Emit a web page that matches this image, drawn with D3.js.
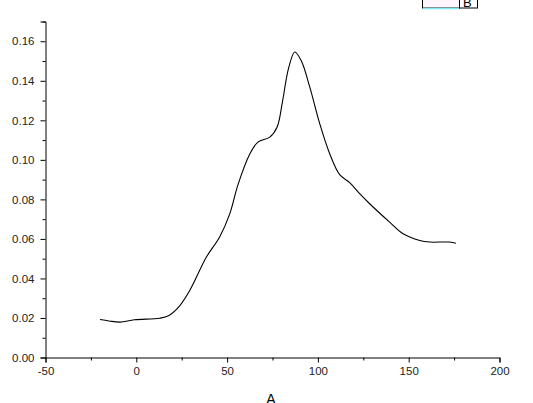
<!DOCTYPE html>
<html>
<head>
<meta charset="utf-8">
<script src="https://cdn.jsdelivr.net/npm/d3@7"></script>
<style>
body { margin: 0; background: #fff; }
svg { display: block; font-family: "Liberation Sans", Arial, sans-serif; }
</style>
</head>
<body>
<svg id="chart" width="533" height="403"></svg>
<script>
// values
const xVals = [-20, -15, -9, -1, 13, 18, 24, 29.5, 38.6, 45.9, 51.5, 56, 62.5, 67, 73.5, 77.5, 80.5, 83.8, 87.3, 90.9, 95.5, 101, 106.5, 112, 117.5, 123, 128.5, 139.5, 146.9, 156.1, 161.5, 172.5, 176];
const yVals = [0.0192, 0.0185, 0.0179, 0.0191, 0.0199, 0.0213, 0.0263, 0.034, 0.0508, 0.061, 0.0728, 0.0875, 0.103, 0.109, 0.1115, 0.1165, 0.1295, 0.1462, 0.1546, 0.150, 0.1369, 0.1183, 0.1031, 0.0925, 0.0885, 0.0829, 0.0778, 0.0685, 0.0626, 0.0592, 0.0584, 0.0584, 0.0578];
const xTicks = [-50, 0, 50, 100, 150, 200];
const yTicks = [0, 0.02, 0.04, 0.06, 0.08, 0.10, 0.12, 0.14, 0.16];
const xLabel = "A";
const legendLabel = "B";

var svg = d3.select("#chart");

var x = d3.scaleLinear().domain([-50, 200]).range([45.5, 499.5]);
var y = d3.scaleLinear().domain([0, 0.17]).range([357.5, 21.5]);

// x axis
svg.append("g")
  .attr("transform", "translate(0,357.5)")
  .call(d3.axisBottom(x).tickValues(xTicks).tickSize(5).tickPadding(4).tickFormat(d => String(d)));
svg.append("g")
  .attr("transform", "translate(0,357.5)")
  .call(d3.axisBottom(x).tickValues(d3.range(-25, 200, 50)).tickSize(3).tickFormat(""))
  .select(".domain").remove();

// y axis
svg.append("g")
  .attr("transform", "translate(45.5,0)")
  .call(d3.axisLeft(y).tickValues(yTicks).tickSize(5).tickPadding(6).tickFormat(d3.format(".2f")));
svg.append("g")
  .attr("transform", "translate(45.5,0)")
  .call(d3.axisLeft(y).tickValues(d3.range(0.01, 0.18, 0.02)).tickSize(3).tickFormat(""))
  .select(".domain").remove();

svg.selectAll(".domain").attr("stroke", "#000");
svg.selectAll(".tick line").attr("stroke", "#000");
svg.selectAll(".tick text").attr("font-size", 11.5).attr("fill", "#222")
  .attr("font-family", "'Liberation Sans', Arial, sans-serif");

// axis title
svg.append("text")
  .attr("x", 271).attr("y", 404)
  .attr("text-anchor", "middle")
  .attr("font-size", 14)
  .attr("font-family", "'Liberation Sans', Arial, sans-serif")
  .text(xLabel);

// curve
var pts = xVals.map((d, i) => [d, yVals[i]]);
svg.append("path")
  .datum(pts)
  .attr("fill", "none")
  .attr("stroke", "#000")
  .attr("stroke-width", 1.1)
  .attr("d", d3.line().x(d => x(d[0])).y(d => y(d[1])).curve(d3.curveCatmullRom.alpha(0.5)));

// legend box, cut at the top
var lg = svg.append("g");
lg.append("rect").attr("x", 422.5).attr("y", -10).attr("width", 37).attr("height", 18)
  .attr("fill", "#fff5fa").attr("stroke", "#000");
lg.append("line").attr("x1", 423).attr("x2", 459).attr("y1", 8.5).attr("y2", 8.5)
  .attr("stroke", "#7fe8ee").attr("stroke-width", 1.5);
lg.append("rect").attr("x", 459.5).attr("y", -10).attr("width", 18).attr("height", 18)
  .attr("fill", "#fff").attr("stroke", "#000");
lg.append("text").attr("x", 463).attr("y", 7).attr("font-size", 13)
  .attr("font-family", "'Liberation Sans', Arial, sans-serif").text(legendLabel);
</script>
</body>
</html>
